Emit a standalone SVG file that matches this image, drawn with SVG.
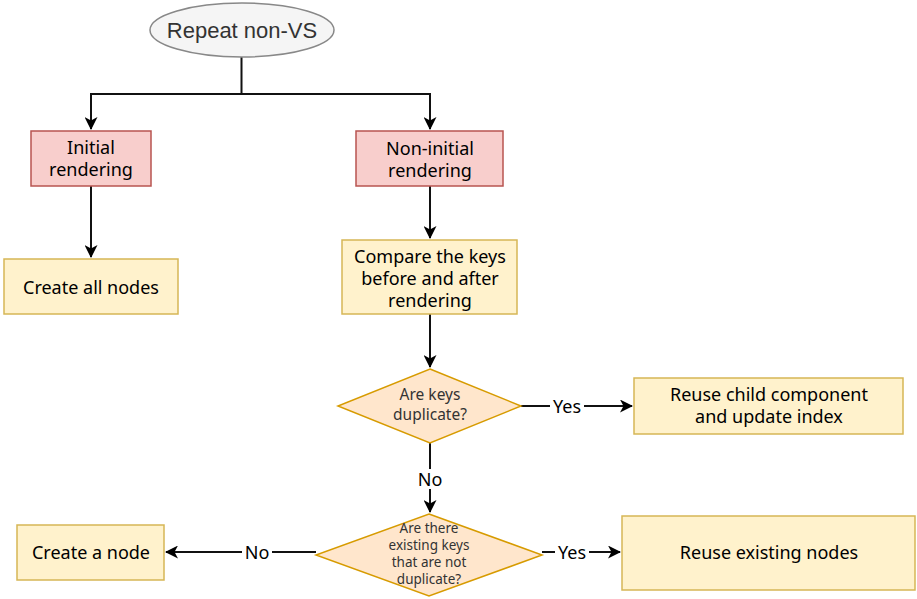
<svg xmlns="http://www.w3.org/2000/svg" width="917" height="599" viewBox="0 0 917 599">
<defs>
<marker id="ah" viewBox="0 0 13 13" refX="12" refY="6.5" markerWidth="13" markerHeight="13" markerUnits="userSpaceOnUse" orient="auto">
<path d="M0,0 L13,6.5 L0,13 L3.5,6.5 Z" fill="#000"/>
</marker>
<style>
.red{fill:#f8cecc;stroke:#b85450;stroke-width:1.5}
.yel{fill:#fff2cc;stroke:#d6b656;stroke-width:1.5}
.dia{fill:#ffe6cc;stroke:#d79b00;stroke-width:1.5}
.t{font-family:"Noto Sans","Open Sans","Liberation Sans",sans-serif;font-size:18px;fill:#000;text-anchor:middle}
.s{font-family:"Noto Sans","Open Sans","Liberation Sans",sans-serif;font-size:15.5px;fill:#333;text-anchor:middle}
.xs{font-family:"Noto Sans","Open Sans","Liberation Sans",sans-serif;font-size:13.5px;fill:#333;text-anchor:middle}
.e{stroke:#111;stroke-width:2;fill:none}
.lbl{font-family:"Noto Sans","Open Sans","Liberation Sans",sans-serif;font-size:18px;fill:#000;text-anchor:middle}
</style>
</defs>
<rect width="917" height="599" fill="#fff"/>
<g id="connectors">
<path class="e" d="M241.5,57 V94 H91 V129" marker-end="url(#ah)"/>
<path class="e" d="M241.5,94 H430 V129" marker-end="url(#ah)"/>
<path class="e" d="M91,186 V257" marker-end="url(#ah)"/>
<path class="e" d="M430,186 V238" marker-end="url(#ah)"/>
<path class="e" d="M430,314 V367" marker-end="url(#ah)"/>
<path class="e" d="M521,406 H632" marker-end="url(#ah)"/>
<path class="e" d="M430,443 V512" marker-end="url(#ah)"/>
<path class="e" d="M542,552 H620" marker-end="url(#ah)"/>
<path class="e" d="M316,552 H166" marker-end="url(#ah)"/>
<rect x="550" y="396" width="34" height="20" fill="#fff"/>
<text class="lbl" x="567" y="413">Yes</text>
<rect x="415" y="469" width="30" height="20" fill="#fff"/>
<text class="lbl" x="430" y="486">No</text>
<rect x="555" y="542" width="34" height="20" fill="#fff"/>
<text class="lbl" x="572" y="559">Yes</text>
<rect x="242" y="542" width="30" height="20" fill="#fff"/>
<text class="lbl" x="257" y="559">No</text>
</g>
<g id="start">
<ellipse cx="242" cy="30" rx="92" ry="27" fill="#f5f5f5" stroke="#888" stroke-width="1.5"/>
<text x="242" y="37.5" font-family="'Liberation Sans',Arial,sans-serif" font-size="22" fill="#333" text-anchor="middle">Repeat non-VS</text>
</g>
<g id="initial">
<rect class="red" x="31" y="131" width="120" height="55"/>
<text class="t" x="91" y="154">Initial</text>
<text class="t" x="91" y="176">rendering</text>
</g>
<g id="noninitial">
<rect class="red" x="356" y="131" width="147" height="55"/>
<text class="t" x="430" y="155">Non-initial</text>
<text class="t" x="430" y="177">rendering</text>
</g>
<g id="createall">
<rect class="yel" x="4" y="259" width="174" height="55"/>
<text class="t" x="91" y="294">Create all nodes</text>
</g>
<g id="compare">
<rect class="yel" x="342" y="240" width="175" height="74"/>
<text class="t" x="430" y="263">Compare the keys</text>
<text class="t" x="430" y="285">before and after</text>
<text class="t" x="430" y="307">rendering</text>
</g>
<g id="dup">
<polygon class="dia" points="430,369 521,406 430,443 338,406"/>
<text class="s" x="430" y="400">Are keys</text>
<text class="s" x="430" y="420">duplicate?</text>
</g>
<g id="reusechild">
<rect class="yel" x="634" y="378" width="269" height="56"/>
<text class="t" x="769" y="401">Reuse child component</text>
<text class="t" x="769" y="423">and update index</text>
</g>
<g id="existing">
<polygon class="dia" points="429,514 542,555 429,596 316,555"/>
<text class="xs" x="429" y="533">Are there</text>
<text class="xs" x="429" y="550">existing keys</text>
<text class="xs" x="429" y="567">that are not</text>
<text class="xs" x="429" y="584">duplicate?</text>
</g>
<g id="reuseexisting">
<rect class="yel" x="622" y="516" width="293" height="74"/>
<text class="t" x="769" y="559">Reuse existing nodes</text>
</g>
<g id="createnode">
<rect class="yel" x="17" y="525" width="147" height="55"/>
<text class="t" x="91" y="559">Create a node</text>
</g>
</svg>
